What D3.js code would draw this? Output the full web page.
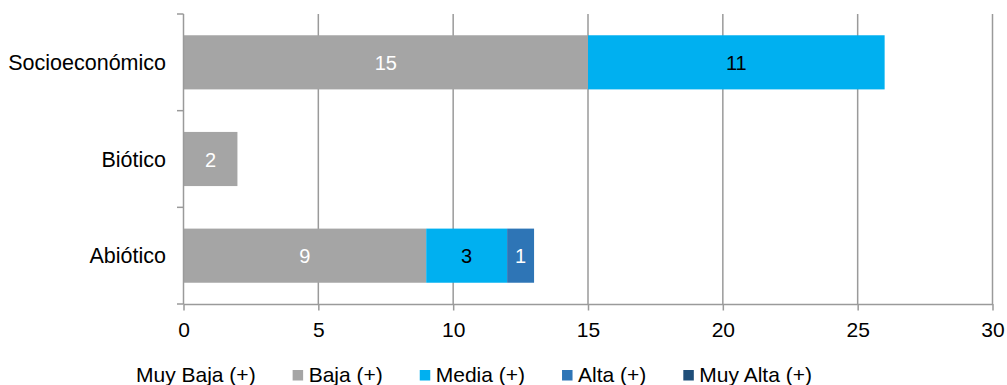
<!DOCTYPE html>
<html>
<head>
<meta charset="utf-8">
<script src="https://cdn.jsdelivr.net/npm/d3@7"></script>
<style>
  body { margin: 0; background: #fff; }
  text { font-family: "Liberation Sans", Arial, sans-serif; }
</style>
</head>
<body>
<div id="chart"></div>
<script>
// data
var categories = ["Socioeconómico", "Biótico", "Abiótico"];
var seriesNames = ["Muy Baja (+)", "Baja (+)", "Media (+)", "Alta (+)", "Muy Alta (+)"];
var muyBaja = [0, 0, 0];
var baja = [15, 2, 9];
var media = [11, 0, 3];
var alta = [0, 0, 1];
var muyAlta = [0, 0, 0];
var xTicks = [0, 5, 10, 15, 20, 25, 30];

var seriesColors = ["#ffffff", "#a5a5a5", "#00b0f0", "#2e75b6", "#1f4e79"];
var labelColors = ["#000", "#fff", "#000", "#fff", "#fff"];

var rows = categories.map(function(c, i) {
  return { cat: c, s0: muyBaja[i], s1: baja[i], s2: media[i], s3: alta[i], s4: muyAlta[i] };
});
var keys = ["s0", "s1", "s2", "s3", "s4"];

var width = 1007, height = 385;
var plotLeft = 183.5, plotRight = 992.5, plotTop = 14, plotBottom = 304;

var svg = d3.select("#chart").append("svg")
  .attr("width", width)
  .attr("height", height);

var xScale = d3.scaleLinear().domain([0, 30]).range([plotLeft, plotRight]);
var yScale = d3.scaleBand().domain(categories).range([plotTop, plotBottom])
  .paddingInner(0.44).paddingOuter(0.22);

var gridColor = "#9a9a9a";

// vertical gridlines
svg.append("g")
  .selectAll("line")
  .data(xTicks.slice(1))
  .enter().append("line")
  .attr("x1", function(d) { return xScale(d); })
  .attr("x2", function(d) { return xScale(d); })
  .attr("y1", plotTop)
  .attr("y2", plotBottom)
  .attr("stroke", gridColor)
  .attr("stroke-width", 1.5);

// stacked bars
var stacked = d3.stack().keys(keys)(rows);

var layers = svg.append("g").selectAll("g")
  .data(stacked)
  .enter().append("g")
  .attr("fill", function(d, i) { return seriesColors[i]; });

layers.selectAll("rect")
  .data(function(d) { return d.filter(function(p) { return p[1] - p[0] > 0; }); })
  .enter().append("rect")
  .attr("x", function(d) { return xScale(d[0]); })
  .attr("y", function(d) { return yScale(d.data.cat); })
  .attr("width", function(d) { return xScale(d[1]) - xScale(d[0]); })
  .attr("height", yScale.bandwidth());

// value labels
stacked.forEach(function(layer, i) {
  svg.append("g").selectAll("text")
    .data(layer.filter(function(p) { return p[1] - p[0] > 0; }))
    .enter().append("text")
    .attr("x", function(d) { return (xScale(d[0]) + xScale(d[1])) / 2; })
    .attr("y", function(d) { return yScale(d.data.cat) + yScale.bandwidth() / 2 + 7.5; })
    .attr("text-anchor", "middle")
    .style("font-size", "20px")
    .attr("fill", labelColors[i])
    .text(function(d) { return d[1] - d[0]; });
});

// x axis
var xAxis = svg.append("g")
  .attr("transform", "translate(0," + plotBottom + ")")
  .call(d3.axisBottom(xScale).tickValues(xTicks).tickSize(6.5).tickSizeOuter(0).tickPadding(12));
xAxis.select(".domain").attr("stroke", gridColor).attr("stroke-width", 1.5);
xAxis.selectAll(".tick line").attr("stroke", gridColor).attr("stroke-width", 1.5);
xAxis.selectAll(".tick text")
  .style("font-size", "21px")
  .style("font-family", "'Liberation Sans', Arial, sans-serif")
  .attr("fill", "#000");

// y axis: line with ticks at band boundaries, labels at band centres
var boundaries = categories.map(function(c) { return yScale(c) - yScale.step() * yScale.paddingInner() / 2; });
boundaries.push(plotBottom);
boundaries[0] = plotTop;

svg.append("line")
  .attr("x1", plotLeft).attr("x2", plotLeft)
  .attr("y1", plotTop).attr("y2", plotBottom)
  .attr("stroke", gridColor).attr("stroke-width", 1.5);

svg.append("g").selectAll("line")
  .data(boundaries)
  .enter().append("line")
  .attr("x1", plotLeft - 6.5).attr("x2", plotLeft)
  .attr("y1", function(d) { return d; })
  .attr("y2", function(d) { return d; })
  .attr("stroke", gridColor).attr("stroke-width", 1.5);

svg.append("g").selectAll("text")
  .data(categories)
  .enter().append("text")
  .attr("x", 166)
  .attr("y", function(d) { return yScale(d) + yScale.bandwidth() / 2 + 7.5; })
  .attr("text-anchor", "end")
  .style("font-size", "21.5px")
  .attr("fill", "#000")
  .text(function(d) { return d; });

// legend
var legend = svg.append("g");
var lx = 120;
seriesNames.forEach(function(name, i) {
  legend.append("rect")
    .attr("x", lx).attr("y", 370)
    .attr("width", 10.5).attr("height", 10.5)
    .attr("fill", seriesColors[i]);
  var t = legend.append("text")
    .attr("x", lx + 16).attr("y", 382)
    .style("font-size", "21px")
    .attr("fill", "#000")
    .text(name);
  lx = lx + 16 + t.node().getComputedTextLength() + 37;
});
</script>
</body>
</html>
